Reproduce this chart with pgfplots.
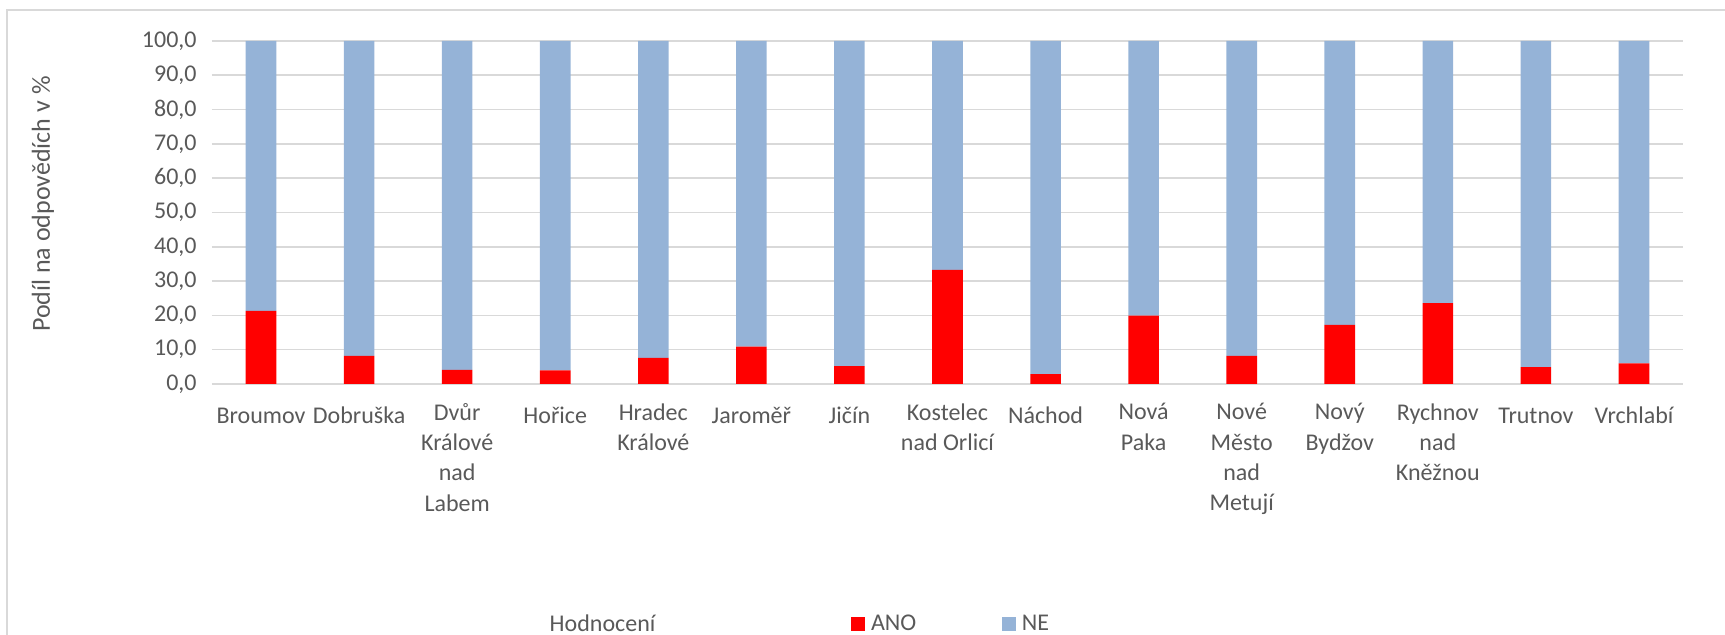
\documentclass[border=0pt]{standalone}
\usepackage{pgfplots}
\pgfplotsset{compat=1.18}
\usepackage{fontspec}
\setmainfont{Carlito}
\definecolor{anored}{HTML}{FF0000}
\definecolor{neblue}{HTML}{95B3D7}
\definecolor{gridgray}{HTML}{D9D9D9}
\definecolor{txtgray}{HTML}{595959}
\begin{document}
\begin{tikzpicture}
\useasboundingbox (0,0) rectangle (862.5pt,317.5pt);
\draw[gridgray, line width=0.8pt] (3.5pt,-2pt) -- (3.5pt,312.5pt) -- (866pt,312.5pt);
\begin{axis}[
  at={(106pt,125.5pt)}, anchor=south west,
  scale only axis,
  width=735.5pt, height=171.5pt,
  ybar stacked,
  bar width=15.3pt,
  xmin=-0.5, xmax=14.5,
  ymin=0, ymax=100,
  ytick={0,10,...,100},
  xtick={0,...,14},
  xticklabels={Broumov, Dobruška, {Dvůr\\[1pt]Králové\\[1pt]nad\\[1pt]Labem}, Hořice, {Hradec\\[1pt]Králové}, Jaroměř, Jičín, {Kostelec\\[1pt]nad Orlicí}, Náchod, {Nová\\[1pt]Paka}, {Nové\\[1pt]Město\\[1pt]nad\\[1pt]Metují}, {Nový\\[1pt]Bydžov}, {Rychnov\\[1pt]nad\\[1pt]Kněžnou}, Trutnov, Vrchlabí},
  major tick length=0pt,
  axis line style={draw=none},
  ymajorgrids,
  grid style={gridgray, line width=0.8pt},
  font=\fontsize{12pt}{14.3pt}\selectfont,
  tick label style={txtgray},
  /pgf/number format/assume math mode=true,
  /pgf/number format/fixed,
  /pgf/number format/fixed zerofill,
  /pgf/number format/precision=1,
  /pgf/number format/use comma,
  yticklabel style={anchor=east, inner sep=0pt, xshift=-7.5pt},
  xticklabel style={font=\fontsize{12pt}{14.15pt}\selectfont, align=center, anchor=north, inner sep=0pt, yshift=-9.5pt, execute at begin node=\strut},
  ylabel={Podíl na odpovědích v \%},
  ylabel style={txtgray, font=\fontsize{13pt}{15.5pt}\selectfont, at={(axis description cs:-0.1149,0.5248)}, anchor=center},
  legend columns=2,
  legend style={draw=none, fill=none, at={(axis description cs:0.4344,-0.7009)}, anchor=west,
    inner sep=0pt, font=\fontsize{12pt}{14.3pt}\selectfont\color{txtgray},
    nodes={inner ysep=1.5pt, inner xsep=2.8pt},
    /tikz/every even column/.append style={column sep=40.2pt}},
  sqlegend/.style={legend image code/.code={\fill[##1, draw=none] (0pt,-3.5pt) rectangle (7pt,3.5pt);}},
]
\addplot+[ybar, fill=anored, draw=none, sqlegend] coordinates {
(0,21.3) (1,8.2) (2,4.1) (3,4.0) (4,7.6) (5,10.9) (6,5.2) (7,33.3) (8,2.9) (9,19.9) (10,8.2) (11,17.2) (12,23.6) (13,4.9) (14,6.0)};
\addlegendentry{ANO}
\addplot+[ybar, fill=neblue, draw=none, sqlegend] coordinates {
(0,78.7) (1,91.8) (2,95.9) (3,96.0) (4,92.4) (5,89.1) (6,94.8) (7,66.7) (8,97.1) (9,80.1) (10,91.8) (11,82.8) (12,76.4) (13,95.1) (14,94.0)};
\addlegendentry{NE}
\end{axis}
\node[anchor=base west, inner sep=0pt, txtgray, font=\fontsize{12pt}{14.3pt}\selectfont] at (274.65pt,1.7pt) {Hodnocení};
\end{tikzpicture}
\end{document}
